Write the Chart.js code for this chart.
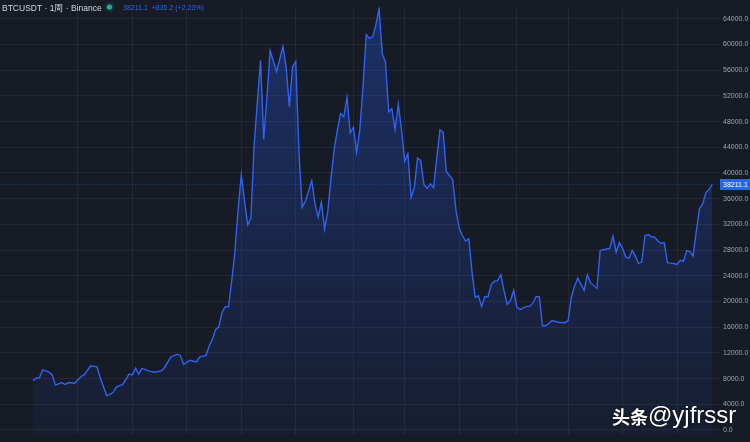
<!DOCTYPE html>
<html>
<head>
<meta charset="utf-8">
<script src="https://cdn.jsdelivr.net/npm/chart.js@4.4.0/dist/chart.umd.min.js"></script>
<style>
  html, body { margin: 0; padding: 0; background: #171b26; }
  #wrap { width: 750px; height: 442px; position: relative; }
</style>
</head>
<body>
<div id="wrap"><canvas id="myChart"></canvas></div>
<script>
const symbolTitle = 'BTCUSDT · 1周 · Binance';
const lastQuote = '38211.1  +835.2 (+2.23%)';
const watermark = ['头条', '@yjfrssr'];

// week index (0 = first weekly bar on screen) and weekly close
const weeks = [
  0, 1, 2, 3, 5, 6, 7, 9, 10, 11, 13, 15, 16, 18, 20, 21, 23, 25, 26, 28,
  30, 31, 32, 33, 34, 36, 38, 40, 41, 43, 45, 46, 47, 49, 51, 52, 54, 55, 56, 57,
  58, 59, 60, 61, 62, 63, 64, 65, 66, 67, 68, 69, 71, 72, 73, 74, 76, 78, 79, 80,
  81, 82, 83, 84, 85, 87, 88, 89, 90, 91, 92, 93, 94, 95, 96, 97, 98, 99, 100, 101,
  102, 103, 104, 105, 106, 107, 108, 109, 110, 111, 112, 113, 114, 115, 116, 117, 118, 119, 120, 121,
  122, 123, 124, 125, 126, 127, 128, 129, 130, 131, 132, 133, 134, 135, 136, 137, 138, 139, 140, 141,
  142, 143, 144, 145, 146, 147, 148, 149, 150, 151, 152, 154, 155, 156, 157, 158, 159, 160, 161, 162,
  164, 166, 167, 168, 169, 170, 172, 173, 174, 176, 177, 178, 180, 181, 182, 183, 184, 185, 186, 187,
  188, 189, 190, 191, 192, 193, 194, 195, 196, 197, 198, 200, 201, 202, 203, 204, 205, 206, 207, 208,
  209, 210, 211, 212
];
const closes = [
  7680, 8090, 8130, 9340, 8990, 8580, 6970, 7380, 7080, 7380, 7280, 8330, 8580, 9990, 9830, 8090, 5320, 5830, 6670, 7080,
  8690, 8580, 9590, 8690, 9590, 9190, 8990, 9190, 9690, 11340, 11790, 11600, 10190, 10840, 10590, 11340, 11600, 13100, 14110, 15620,
  16050, 18300, 19180, 19180, 23150, 27670, 34190, 39710, 35690, 31930, 32930, 44230, 57530, 45230, 51760, 59040, 55770, 59690, 56520, 50250,
  56520, 57380, 43200, 34680, 35600, 38810, 35200, 33130, 35440, 31280, 34000, 39200, 43720, 46730, 49250, 48750, 51760, 46230, 47140, 43220,
  46800, 53500, 61550, 60950, 61190, 63050, 65560, 58540, 57270, 49500, 50000, 46730, 50750, 46730, 41820, 42970, 36190, 37700, 42320, 41970,
  38200, 37600, 38300, 37700, 42220, 46730, 46330, 40210, 39610, 38960, 34190, 31430, 30270, 29410, 29770, 24650, 20630, 20890, 19230, 20740,
  20740, 22640, 23150, 23240, 24140, 21640, 19530, 20130, 21730, 19130, 18720, 19230, 19230, 19730, 20740, 20740, 16220, 16220, 16610, 17020,
  16760, 16700, 17020, 20630, 22390, 23640, 21730, 24140, 22890, 22030, 27910, 28060, 28270, 30170, 27670, 29170, 28270, 26910, 26760, 27910,
  27060, 25900, 26160, 30270, 30420, 30070, 30020, 29410, 29070, 29170, 26050, 25900, 25750, 26400, 26250, 27910, 27760, 27060, 30920, 34440,
  35190, 36950, 37450, 38211.1
];

const priceTicks = [0, 4000, 8000, 12000, 16000, 20000, 24000, 28000, 32000, 36000, 40000, 44000, 48000, 52000, 56000, 60000, 64000];
const gridWeeks = [14, 31, 48, 65, 82, 100, 116, 133, 151, 167, 184, 201];

const overlay = {
  id: 'overlay',
  beforeDatasetsDraw(chart) {
    const { ctx, chartArea, scales } = chart;
    const y = Math.round(scales.y.getPixelForValue(closes[closes.length - 1])) + 0.5;
    ctx.save();
    ctx.strokeStyle = 'rgba(41, 98, 255, 0.45)';
    ctx.lineWidth = 1;
    ctx.setLineDash([1, 2]);
    ctx.beginPath();
    ctx.moveTo(chartArea.left, y);
    ctx.lineTo(chartArea.right, y);
    ctx.stroke();
    ctx.restore();
  },
  afterDraw(chart) {
    const { ctx, chartArea, scales } = chart;
    const last = closes[closes.length - 1];
    ctx.save();
    // header
    ctx.font = '8.5px "Liberation Sans"';
    ctx.fillStyle = '#d1d4dc';
    ctx.textBaseline = 'alphabetic';
    ctx.textAlign = 'left';
    ctx.fillText(symbolTitle, 2, 11);
    ctx.shadowColor = 'rgba(38, 166, 154, 0.8)';
    ctx.shadowBlur = 4;
    ctx.fillStyle = '#22ab94';
    ctx.beginPath();
    ctx.arc(109.5, 7, 2.6, 0, Math.PI * 2);
    ctx.fill();
    ctx.shadowBlur = 0;
    ctx.font = '7px "Liberation Sans"';
    ctx.fillStyle = '#2f64f0';
    ctx.fillText(lastQuote, 123, 10);
    // last price label
    const y = scales.y.getPixelForValue(last);
    ctx.fillStyle = '#2962ff';
    ctx.fillRect(chartArea.right, y - 5.5, 30, 11);
    ctx.fillStyle = '#ffffff';
    ctx.font = '7px "Liberation Sans"';
    ctx.textBaseline = 'middle';
    ctx.fillText(last.toFixed(1), chartArea.right + 3, y + 0.5);
    // watermark
    ctx.textBaseline = 'alphabetic';
    ctx.shadowColor = 'rgba(0, 0, 0, 0.6)';
    ctx.shadowBlur = 3;
    ctx.fillStyle = '#ffffff';
    ctx.font = 'bold 18px "Noto Sans CJK SC"';
    ctx.fillText(watermark[0], 612, 424);
    ctx.font = '24px "Liberation Sans"';
    ctx.fillText(watermark[1], 648, 423);
    ctx.restore();
  }
};

const ctx = document.getElementById('myChart').getContext('2d');
new Chart(ctx, {
  type: 'line',
  data: {
    datasets: [
      {
        label: 'BTCUSDT',
        data: weeks.map((w, i) => ({ x: w, y: closes[i] })),
        borderColor: '#2f63f2',
        borderWidth: 1.4,
        pointRadius: 0,
        tension: 0,
        fill: 'start',
        backgroundColor: (context) => {
          const area = context.chart.chartArea;
          if (!area) return 'rgba(41, 98, 255, 0.15)';
          const g = context.chart.ctx.createLinearGradient(0, area.top, 0, area.bottom);
          g.addColorStop(0, 'rgba(41, 98, 255, 0.30)');
          g.addColorStop(1, 'rgba(41, 98, 255, 0.05)');
          return g;
        },
      },
    ],
  },
  options: {
    responsive: true,
    maintainAspectRatio: false,
    animation: false,
    layout: { padding: 0 },
    plugins: {
      legend: { display: false },
      tooltip: { enabled: false },
    },
    scales: {
      x: {
        type: 'linear',
        min: -10.3,
        max: 214.4,
        afterBuildTicks: (s) => { s.ticks = gridWeeks.map((v) => ({ value: v })); },
        afterFit: (s) => { s.height = 0; },
        ticks: { display: false },
        grid: { color: '#232735', drawTicks: false },
        border: { display: false },
      },
      y: {
        position: 'right',
        min: -753,
        max: 65807,
        afterBuildTicks: (s) => { s.ticks = priceTicks.map((v) => ({ value: v })); },
        afterFit: (s) => { s.width = 30; },
        ticks: {
          color: '#9ba1ad',
          padding: 3,
          font: { family: 'Liberation Sans', size: 7 },
          callback: (v) => Number(v).toFixed(1),
        },
        grid: { color: '#232735', drawTicks: false },
        border: { display: false },
      },
    },
  },
  plugins: [overlay],
});
</script>
</body>
</html>
